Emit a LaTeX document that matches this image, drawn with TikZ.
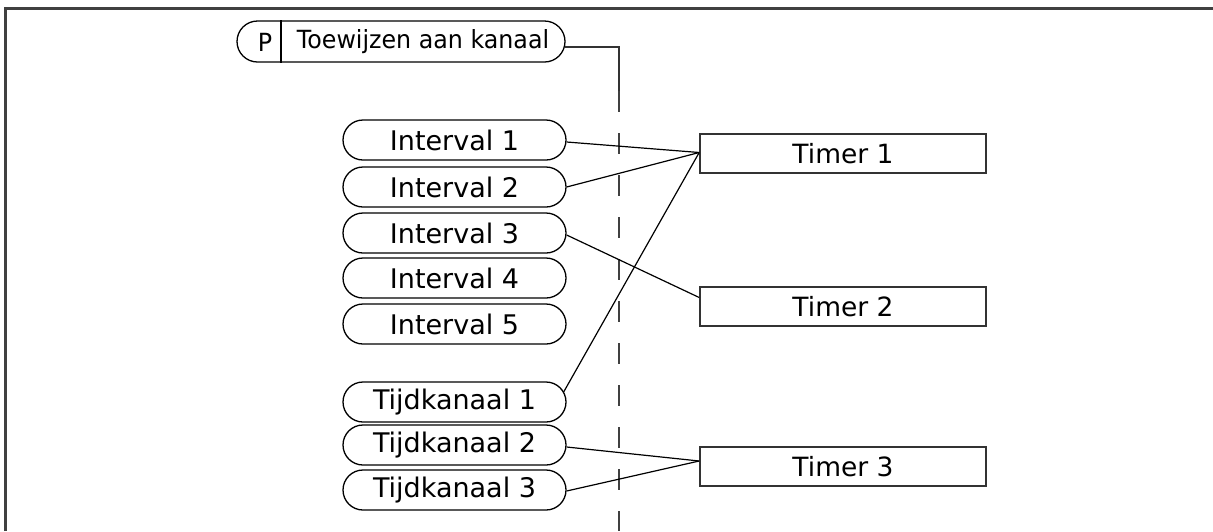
\documentclass[tikz,border=0pt]{standalone}
\usepackage{fontspec}
\setmainfont{DejaVu Sans}
\newfontfamily\pfont[FakeStretch=0.95]{DejaVu Sans}
\usetikzlibrary{shapes.misc,calc}
\begin{document}
\begin{tikzpicture}[x=1pt,y=-1pt,
  pill/.style={rounded rectangle, draw=black, line width=1.3pt, minimum width=223pt, minimum height=40pt, inner sep=0pt, font=\fontsize{27}{30}\selectfont},
  timerbox/.style={rectangle, draw=black!80, line width=1.6pt, minimum width=286pt, minimum height=39pt, inner sep=0pt, font=\fontsize{26.5}{30}\selectfont},
  conn/.style={line width=1.2pt, black},
  frameline/.style={line width=2.2pt, black!75},
  dashline/.style={line width=1.4pt, black!75, dash pattern=on 21pt off 21pt},
  ptext/.style={inner sep=0pt, font=\pfont\fontsize{25}{30}\selectfont}]
\useasboundingbox (0,0) rectangle (1213,531);
% frame
\draw[frameline] (5.5,531) -- (5.5,8.5) -- (1213,8.5);
% parameter node
\node[pill, minimum width=328pt, minimum height=41pt] (pnode) at (401,41.5) {};
\node[ptext] (plabel) at (265,42) {P};
\node[ptext] (ptitle) at (423,42) {Toewijzen aan kanaal};
\coordinate (div) at (281,41.5);
\draw[line width=1.1pt] (div |- pnode.north) -- (div |- pnode.south);
% vertical divider
\coordinate (bend) at (619,47);
\coordinate (dashtop) at (619,91);
\coordinate (dashbot) at (619,531);
\draw[conn, black!80] ([xshift=-1pt,yshift=-5.5pt]pnode.east) -- (bend) -- (dashtop);
\draw[dashline] (dashtop) -- (dashbot);
% interval nodes
\node[pill] (i1) at (454.5,140) {Interval 1};
\node[pill] (i2) at (454.5,187) {Interval 2};
\node[pill] (i3) at (454.5,233) {Interval 3};
\node[pill] (i4) at (454.5,278) {Interval 4};
\node[pill] (i5) at (454.5,324) {Interval 5};
\node[pill] (t1) at (454.5,402) {Tijdkanaal 1};
\node[pill] (t2) at (454.5,445) {Tijdkanaal 2};
\node[pill] (t3) at (454.5,490) {Tijdkanaal 3};
% timers
\node[timerbox] (tm1) at (843,153.5) {Timer 1};
\node[timerbox] (tm2) at (843,306.5) {Timer 2};
\node[timerbox] (tm3) at (843,466.5) {Timer 3};
% connectors
\draw[conn] ([yshift=-2pt]i1.east) -- ([yshift=1pt]tm1.west);
\draw[conn] (i2.east) -- ([yshift=1pt]tm1.west);
\draw[conn] ([xshift=-3pt,yshift=10pt]t1.east) -- ([yshift=1pt]tm1.west);
\draw[conn] ([yshift=-2pt]i3.east) -- ([yshift=9pt]tm2.west);
\draw[conn] ([yshift=-2pt]t2.east) -- ([yshift=5.5pt]tm3.west);
\draw[conn] ([yshift=-1pt]t3.east) -- ([yshift=5.5pt]tm3.west);
\end{tikzpicture}
\end{document}
